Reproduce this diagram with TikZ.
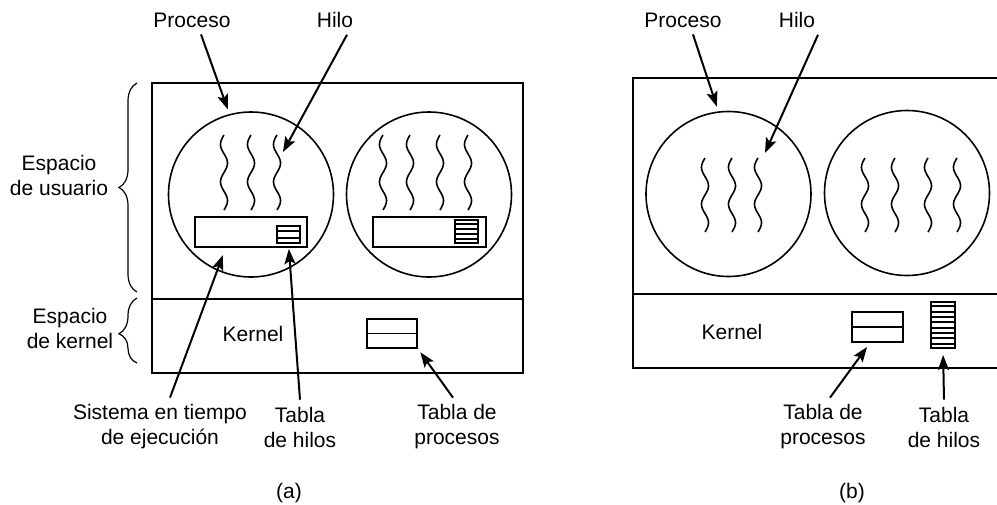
\documentclass[tikz,border=0pt]{standalone}
\usepackage{fontspec}
\setmainfont{Liberation Sans}
\usetikzlibrary{arrows.meta, calc, decorations.pathreplacing}

\begin{document}
\begin{tikzpicture}[x=0.5pt, y=-0.5pt,
		every node/.style={font=\fontsize{10.5}{12.5}\selectfont, align=center},
		caja/.style={black, line width=1pt},
		proc/.style={draw, circle, line width=0.8pt, minimum size=82.5pt, inner sep=0pt},
		rts/.style={draw, line width=1pt, inner sep=0pt},
		fina/.style={line width=0.9pt},
		hilo/.style={line width=0.8pt},
		flecha/.style={black, line width=1pt, -{Stealth[length=7.5pt, width=5.5pt, inset=1.5pt]}},
		llave/.style={decorate, decoration={brace, amplitude=9pt}, line width=0.6pt}]
	\useasboundingbox (0,0) rectangle (997,504);

	% (a)
	\draw[caja] (152,83) rectangle (523,373);
	\draw[caja] (152,299) -- (523,299);
	\node[proc] (pa1) at (251,194.5) {};
	\node[proc] (pa2) at (429,194.5) {};
	\foreach \h in {224,251,277,383,410,440,468}
		\draw[hilo] plot[domain=0:75, samples=60, smooth] ({\h-3.5*sin(9.6*\x)}, {135+\x});
	\node[rts, minimum width=56pt, minimum height=15pt] (rtA) at (251,232) {};
	\node[rts, minimum width=56.5pt, minimum height=15pt] (rtA2) at (429.5,232) {};
	\node[rts, minimum width=11.5pt, minimum height=8.5pt] (thA) at (288.5,234.5) {};
	\node[rts, minimum width=11.5pt, minimum height=11.5pt] (thA2) at (466.5,231.5) {};
	\foreach \k in {1,2}
		\draw[fina] ($(thA.north west)!\k/3!(thA.south west)$) -- ($(thA.north east)!\k/3!(thA.south east)$);
	\foreach \k in {1,...,4}
		\draw[fina] ($(thA2.north west)!\k/5!(thA2.south west)$) -- ($(thA2.north east)!\k/5!(thA2.south east)$);
	\node[rts, minimum width=25pt, minimum height=14.5pt] (ptA) at (392,333.5) {};
	\draw[fina] (ptA.west) -- (ptA.east);
	\node (kerA) at (253,334) {Kernel};

	\draw[llave] (137,292) -- (137,83);
	\draw[llave, decoration={brace, amplitude=9pt, aspect=0.45}] (137,363) -- (137,298);
	\node (lblUsu) at (59,175) {Espacio\\de usuario};
	\node (lblKer) at (70,328) {Espacio\\de kernel};

	\node (lblProcA) at (192,20) {Proceso};
	\node (lblHiloA) at (335,20) {Hilo};
	\node (lblRt) at (160,427) {Sistema en tiempo\\de ejecución};
	\node (lblThA) at (300,427) {Tabla\\de hilos};
	\node (lblPtA) at (457,427) {Tabla de\\procesos};
	\node (capA) at (289,493) {(a)};
	\coordinate (hiloA) at (283,152);
	\coordinate (rtTip) at (223,255);

	\draw[flecha, shorten >=2.5pt] ([xshift=4.5pt]lblProcA.south) -- (pa1.105);
	\draw[flecha] ([xshift=6pt]lblHiloA.south) -- (hiloA);
	\draw[flecha] ([xshift=5pt]lblRt.north) -- (rtTip);
	\draw[flecha, shorten >=2.5pt] (lblThA.north) -- (thA.south);
	\draw[flecha, shorten >=2pt] ([xshift=-2pt]lblPtA.north) -- (ptA.south east);

	% (b)
	\draw[caja] (997,78) -- (633,78) -- (633,368) -- (997,368);
	\draw[caja] (633,294) -- (997,294);
	\node[proc] (pb1) at (728.5,194) {};
	\node[proc] (pb2) at (907,193) {};
	\foreach \h in {705,732,758,865,895,928,957}
		\draw[hilo] plot[domain=0:74, samples=60, smooth] ({\h-3.5*sin(9.73*\x)}, {158+\x});
	\node[rts, minimum width=25.5pt, minimum height=15pt] (ptB) at (877.5,327) {};
	\draw[fina] (ptB.west) -- (ptB.east);
	\node[rts, minimum width=12pt, minimum height=23pt] (thB) at (943,325) {};
	\foreach \k in {1,...,8}
		\draw[fina] ($(thB.north west)!\k/9!(thB.south west)$) -- ($(thB.north east)!\k/9!(thB.south east)$);
	\node (kerB) at (732,332) {Kernel};

	\node (lblProcB) at (683,20) {Proceso};
	\node (lblHiloB) at (797,20) {Hilo};
	\node (lblPtB) at (823,427) {Tabla de\\procesos};
	\node (lblThB) at (944,427) {Tabla\\de hilos};
	\node (capB) at (852,493) {(b)};
	\coordinate (hiloB) at (765,153);
	\coordinate (ptTipB) at (867,347);

	\draw[flecha, shorten >=2.5pt] ([xshift=5pt]lblProcB.south) -- (pb1.97);
	\draw[flecha] ([xshift=10.5pt]lblHiloB.south) -- (hiloB);
	\draw[flecha] ([xshift=3.5pt]lblPtB.north) -- (ptTipB);
	\draw[flecha, shorten >=3pt] (lblThB.north) -- (thB.south);
\end{tikzpicture}
\end{document}
